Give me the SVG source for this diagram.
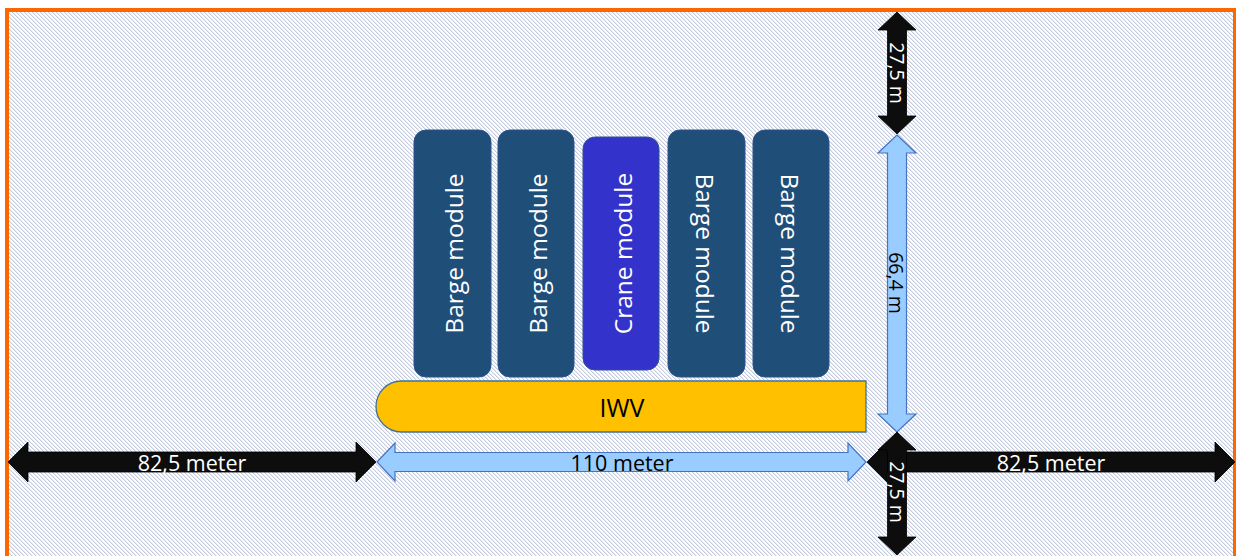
<svg xmlns="http://www.w3.org/2000/svg" width="1236" height="556" viewBox="0 0 1236 556">
<defs>
<pattern id="hatch" width="4" height="4" patternUnits="userSpaceOnUse">
<rect width="4" height="4" fill="#ffffff"/>
<rect x="0" y="0" width="1" height="1" fill="#c3cadc"/>
<rect x="1" y="1" width="1" height="1" fill="#c3cadc"/>
<rect x="2" y="2" width="1" height="1" fill="#c3cadc"/>
<rect x="3" y="3" width="1" height="1" fill="#c3cadc"/>
<rect x="1" y="0" width="1" height="1" fill="#e8ebf2"/>
<rect x="2" y="1" width="1" height="1" fill="#e8ebf2"/>
<rect x="3" y="2" width="1" height="1" fill="#e8ebf2"/>
<rect x="0" y="3" width="1" height="1" fill="#e8ebf2"/>
</pattern>
<style>
.barge{fill:#1f4e79;stroke:#2f528f;stroke-width:1}
.crane{fill:#3333cc;stroke:#2f528f;stroke-width:1}
.mtxt{font-family:"Open Sans","DejaVu Sans",sans-serif;font-size:24.5px;fill:#ffffff;text-anchor:middle;dominant-baseline:central}
.blk{fill:#0d0d0d;stroke:#000000;stroke-width:0.8}
.blu{fill:#99ccff;stroke:#4472c4;stroke-width:1.2}
.wt{font-family:"Open Sans","DejaVu Sans",sans-serif;font-size:21.5px;fill:#ffffff;text-anchor:middle;dominant-baseline:central}
.bt{font-family:"Open Sans","DejaVu Sans",sans-serif;font-size:21.5px;fill:#000000;text-anchor:middle;dominant-baseline:central}
.vt{font-family:"Open Sans","DejaVu Sans",sans-serif;font-size:19.5px;text-anchor:middle;dominant-baseline:central}
</style>
</defs>
<rect x="0" y="0" width="1236" height="556" fill="#ffffff"/>
<rect x="7" y="10" width="1228" height="560" fill="url(#hatch)" stroke="#ff6600" stroke-width="4"/>

<g id="barge1"><rect class="barge" x="414" y="130" width="77" height="247" rx="12"/><text class="mtxt" transform="translate(453,253.5) rotate(-90)">Barge module</text></g>
<g id="barge2"><rect class="barge" x="498" y="130" width="76" height="247" rx="12"/><text class="mtxt" transform="translate(537,253.5) rotate(-90)">Barge module</text></g>
<g id="crane"><rect class="crane" x="583" y="137" width="76" height="233" rx="12"/><text class="mtxt" transform="translate(622,253.5) rotate(-90)">Crane module</text></g>
<g id="barge3"><rect class="barge" x="668" y="130" width="77" height="247" rx="12"/><text class="mtxt" transform="translate(705,253.5) rotate(90)">Barge module</text></g>
<g id="barge4"><rect class="barge" x="753" y="130" width="76" height="247" rx="12"/><text class="mtxt" transform="translate(790,253.5) rotate(90)">Barge module</text></g>

<g id="iwv"><path d="M401.5,381 H866 V432 H401.5 A25.5,25.5 0 0 1 401.5,381 Z" fill="#ffc000" stroke="#41719c" stroke-width="1.3"/><text x="622" y="407" font-family="'Open Sans','DejaVu Sans',sans-serif" font-size="25px" fill="#000000" text-anchor="middle" dominant-baseline="central">IWV</text></g>

<g id="connectors">
<g id="dim-top"><polygon class="blk" points="897,12 916,30 906.5,30 906.5,116 916,116 897,134 878,116 887.5,116 887.5,30 878,30"/><text class="vt" fill="#ffffff" transform="translate(897,73) rotate(90)">27,5 m</text></g>
<g id="dim-height"><polygon class="blu" points="897,135 916,153 906.5,153 906.5,414 916,414 897,432 878,414 887.5,414 887.5,153 878,153"/><text class="vt" fill="#000000" transform="translate(896,283) rotate(90)">66,4 m</text></g>
<g id="dim-left"><polygon class="blk" points="8,462 28,442 28,452 356,452 356,442 376,462 356,482 356,472 28,472 28,482"/><text class="wt" x="192" y="462">82,5 meter</text></g>
<g id="dim-length"><polygon class="blu" points="377,462 395,443 395,452.5 848,452.5 848,443 866,462 848,481 848,471.5 395,471.5 395,481"/><text class="bt" x="622" y="462">110 meter</text></g>
<g id="dim-right"><polygon class="blk" points="867,462 887,442 887,452 1215,452 1215,442 1235,462 1215,482 1215,472 887,472 887,482"/><text class="wt" x="1051" y="462">82,5 meter</text></g>
<g id="dim-bottom"><polygon class="blk" points="897,432 916,450 906.5,450 906.5,537 916,537 897,555 878,537 887.5,537 887.5,450 878,450"/><text class="vt" fill="#ffffff" transform="translate(897,492) rotate(90)">27,5 m</text></g>
</g>
</svg>
